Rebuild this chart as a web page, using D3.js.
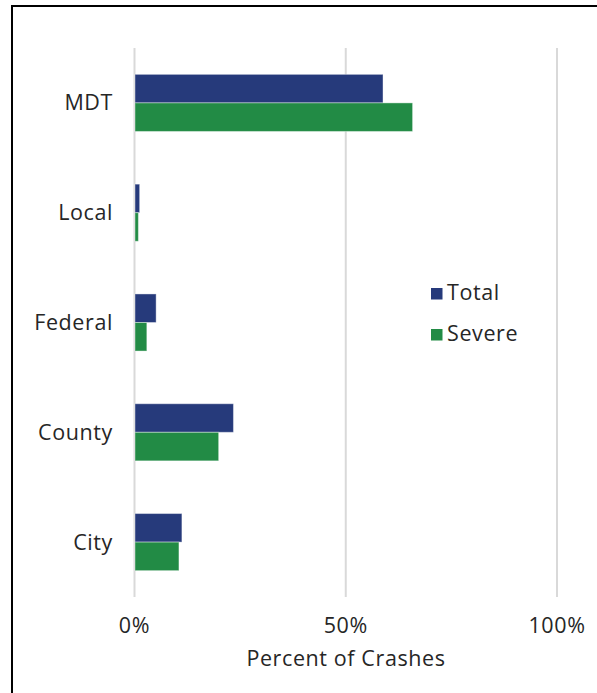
<!DOCTYPE html>
<html><head><meta charset="utf-8">
<script src="https://cdn.jsdelivr.net/npm/d3@7"></script>
<style>html,body{margin:0;padding:0;background:#fff;}svg{display:block;}</style>
</head><body>
<svg id="c" width="597" height="693"></svg>
<script>
const categories = ["MDT", "Local", "Federal", "County", "City"];
const seriesNames = ["Total", "Severe"];
const totalValues = [58.7, 1.1, 5.0, 23.3, 11.1];
const severeValues = [65.7, 0.8, 2.8, 19.8, 10.4];
const tickValues = [0, 50, 100];
const tickLabels = ["0%", "50%", "100%"];
const colors = ["#263a7b", "#228b45"];

const FONT = "'Open Sans', 'Noto Sans', sans-serif";
const FS = 21.5, LS = 0.6;
const svg = d3.select("#c");
svg.append("rect").attr("x", 12).attr("y", 6).attr("width", 600).attr("height", 700)
  .attr("fill", "none").attr("stroke", "#000").attr("stroke-width", 2);

const x = d3.scaleLinear().domain([0, 100]).range([134.5, 557]);
const y = d3.scaleBand().domain(categories).range([48, 597]).paddingInner(0.48).paddingOuter(0.24);
const ys = d3.scaleBand().domain(seriesNames).range([0, y.bandwidth()]);

// gridlines
svg.append("g").selectAll("line").data(tickValues).join("line")
  .attr("x1", d => x(d)).attr("x2", d => x(d)).attr("y1", 48).attr("y2", 597)
  .attr("stroke", "#d9d9d9").attr("stroke-width", 2);

const data = categories.map((c, i) => ({cat: c, vals: [totalValues[i], severeValues[i]]}));
const g = svg.append("g");
data.forEach(d => {
  d.vals.forEach((v, j) => {
    g.append("rect")
      .attr("x", x(0) + 0.5).attr("y", y(d.cat) + ys(seriesNames[j]))
      .attr("width", x(v) - x(0)).attr("height", ys.bandwidth())
      .attr("fill", colors[j]).attr("stroke", "#fff").attr("stroke-opacity", 0.4).attr("stroke-width", 1);
  });
});

function txt(sel) {
  return sel.attr("font-family", FONT).attr("font-size", FS).attr("letter-spacing", LS).attr("fill", "#262626");
}

// category labels
svg.append("g").selectAll("text").data(categories).join("text")
  .attr("x", 113).attr("y", d => y(d) + y.bandwidth() / 2 + 7.5)
  .attr("text-anchor", "end").call(txt)
  .text(d => d);

// tick labels
svg.append("g").selectAll("text").data(tickValues).join("text")
  .attr("x", d => x(d)).attr("y", 633)
  .attr("text-anchor", "middle").call(txt)
  .text((d, i) => tickLabels[i]);

svg.append("text").attr("x", 346).attr("y", 666).attr("text-anchor", "middle")
  .call(txt).text("Percent of Crashes");

// legend
const leg = svg.append("g");
seriesNames.forEach((s, i) => {
  const ly = 288 + i * 41;
  leg.append("rect").attr("x", 431).attr("y", ly).attr("width", 11.5).attr("height", 11.5).attr("fill", colors[i]);
  leg.append("text").attr("x", 447).attr("y", ly + 11.5).call(txt).text(s);
});
</script>
</body></html>
